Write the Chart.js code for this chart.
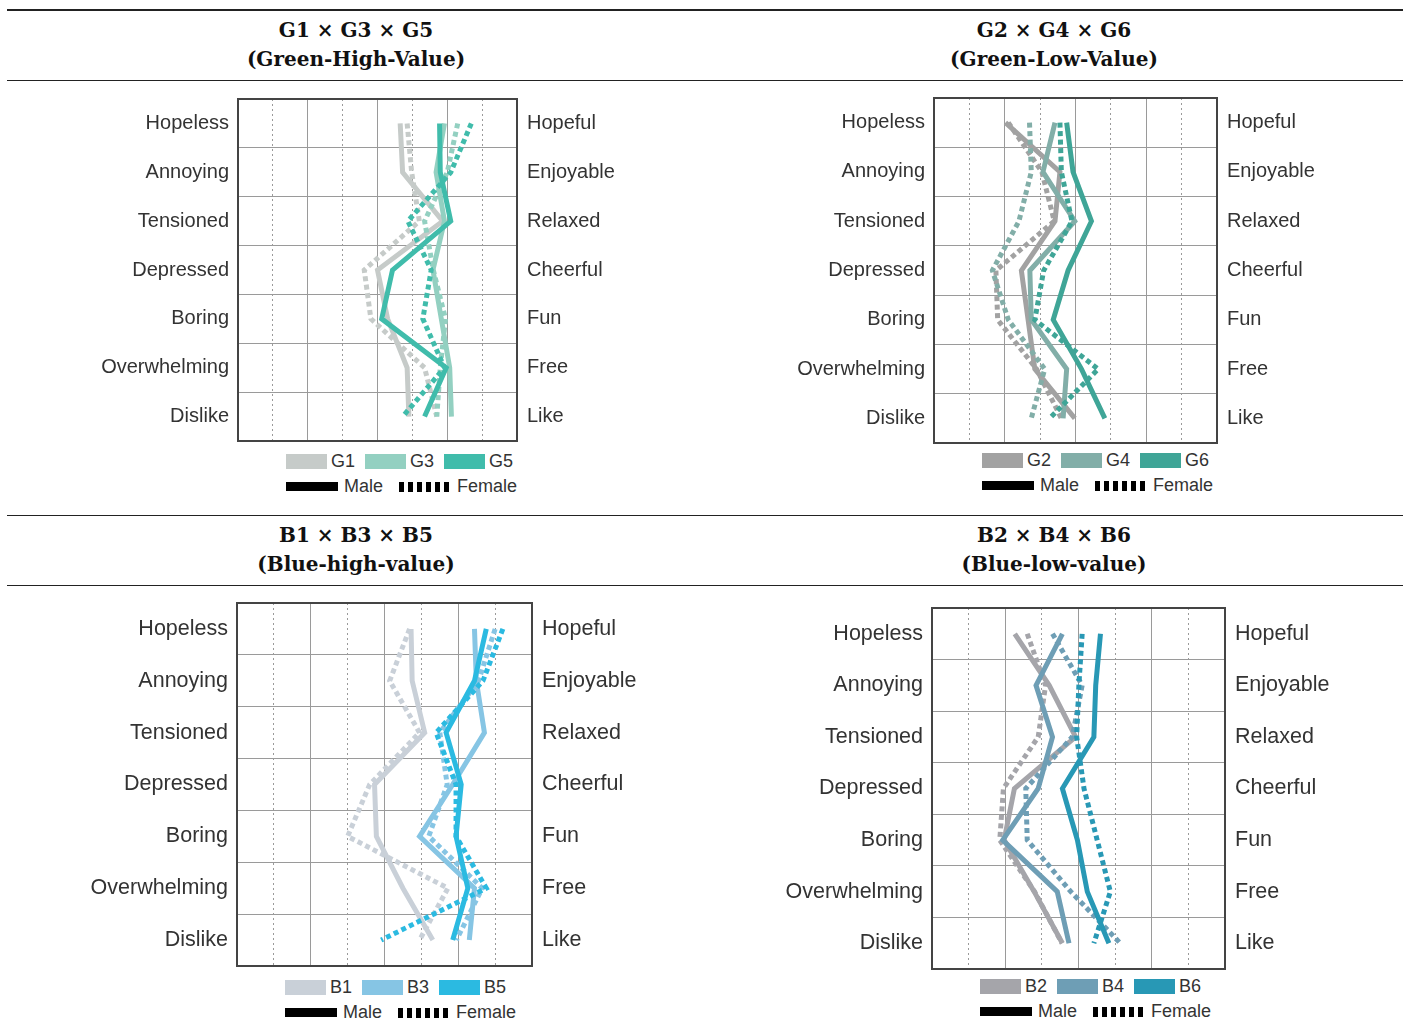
<!DOCTYPE html>
<html>
<head>
<meta charset="utf-8">
<script src="https://cdn.jsdelivr.net/npm/chart.js@4.4.1/dist/chart.umd.min.js"></script>
<style>
  body { margin: 0; width: 1408px; height: 1036px; position: relative; background: #fff; overflow: hidden;
         font-family: "Liberation Sans", Arial, sans-serif; }
  .rule { position: absolute; left: 7px; width: 1396px; height: 1px; background: #222; }
  .head { position: absolute; width: 600px; text-align: center; font-family: "DejaVu Serif", serif;
          font-weight: bold; font-size: 20px; line-height: 29px; color: #111; }
  .panel { position: absolute; }
  .legend { position: absolute; font-size: 18px; color: #333; }
  .row { display: flex; align-items: center; height: 25px; white-space: nowrap; }
  .sw { display: inline-block; width: 41px; height: 15px; margin-right: 4px; }
  .txt { margin-right: 10px; }
  .male { display: inline-block; width: 52px; height: 9px; background: #000; margin-right: 6px; }
  .female { display: inline-block; width: 52px; height: 10px; margin-right: 6px;
            background: repeating-linear-gradient(90deg, #000 0 5px, transparent 5px 9px); }
</style>
</head>
<body>

<div class="rule" style="top:9px;height:2px"></div>
<div class="head" style="left:56px;top:16px">G1 × G3 × G5<br>(Green-High-Value)</div>
<div class="head" style="left:754px;top:16px">G2 × G4 × G6<br>(Green-Low-Value)</div>
<div class="rule" style="top:80px"></div>

<div class="rule" style="top:515px"></div>
<div class="head" style="left:56px;top:521px">B1 × B3 × B5<br>(Blue-high-value)</div>
<div class="head" style="left:754px;top:521px">B2 × B4 × B6<br>(Blue-low-value)</div>
<div class="rule" style="top:585px"></div>

<script>
/* Semantic pairs (left = negative pole, right = positive pole) */
let leftLabels = ['Hopeless', 'Annoying', 'Tensioned', 'Depressed', 'Boring', 'Overwhelming', 'Dislike']
let rightLabels = ['Hopeful', 'Enjoyable', 'Relaxed', 'Cheerful', 'Fun', 'Free', 'Like']

/* Green - high value */
let g1Male   = [4.65, 4.72, 5.87, 4.00, 4.29, 4.85, 4.90]
let g1Female = [4.85, 4.98, 5.20, 3.62, 3.81, 5.35, 5.70]
let g3Male   = [5.92, 5.68, 5.92, 5.59, 5.83, 6.07, 6.12]
let g3Female = [6.30, 6.00, 5.35, 5.60, 5.95, 5.80, 5.70]
let g5Male   = [5.78, 5.80, 6.10, 4.43, 4.12, 5.97, 5.35]
let g5Female = [6.69, 6.10, 4.87, 5.54, 5.30, 5.92, 4.72]

/* Green - low value */
let g2Male   = [2.02, 3.56, 3.42, 2.47, 2.66, 2.85, 3.98]
let g2Female = [2.10, 3.05, 3.40, 1.75, 1.80, 2.90, 3.60]
let g4Male   = [3.42, 3.08, 3.98, 2.71, 2.75, 3.75, 3.65]
let g4Female = [2.70, 2.75, 2.40, 1.65, 2.10, 3.13, 2.75]
let g6Male   = [3.75, 3.93, 4.45, 3.79, 3.37, 4.17, 4.83]
let g6Female = [3.56, 3.60, 3.90, 3.10, 2.85, 4.64, 3.27]

/* Blue - high value */
let b1Male   = [4.72, 4.75, 5.09, 3.73, 3.78, 4.50, 5.31]
let b1Female = [4.68, 4.14, 4.95, 3.60, 3.00, 5.72, 4.95]
let b3Male   = [6.44, 6.49, 6.71, 5.85, 4.95, 6.44, 6.30]
let b3Female = [7.00, 6.55, 5.50, 5.70, 5.20, 6.65, 5.95]
let b5Male   = [6.76, 6.44, 5.67, 6.08, 5.94, 6.26, 5.85]
let b5Female = [7.21, 6.67, 5.40, 5.94, 5.94, 6.76, 3.91]

/* Blue - low value */
let b2Male   = [2.26, 3.20, 3.92, 2.25, 1.97, 2.79, 3.56]
let b2Female = [2.60, 3.10, 2.90, 1.95, 1.85, 2.80, 3.55]
let b4Male   = [3.56, 2.84, 3.29, 2.90, 1.93, 3.42, 3.74]
let b4Female = [3.29, 4.10, 3.83, 2.56, 2.60, 3.79, 5.14]
let b6Male   = [4.60, 4.47, 4.42, 3.56, 3.97, 4.24, 4.83]
let b6Female = [4.10, 4.01, 3.95, 4.15, 4.51, 4.87, 4.42]

// scale runs over 8 cells, odd lines dashed
let scaleMin = 0
let scaleMax = 8

Chart.defaults.font.family = '"Liberation Sans", Arial, sans-serif'

// dark frame round the plot area
let frame = {
    id: 'frame',
    afterDraw(chart) {
        let a = chart.chartArea
        let c = chart.ctx
        c.save()
        c.strokeStyle = '#444'
        c.lineWidth = 2
        c.strokeRect(a.left, a.top, a.right - a.left, a.bottom - a.top)
        c.restore()
    }
}

function makePanel(box, groups, labelSize, legendTop) {
    let sideW = 170
    let pad = 2

    let wrap = document.createElement('div')
    wrap.className = 'panel'
    wrap.style.left = (box.left - sideW) + 'px'
    wrap.style.top = (box.top - pad) + 'px'
    let canvas = document.createElement('canvas')
    canvas.width = box.width + sideW * 2
    canvas.height = box.height + pad * 2
    wrap.appendChild(canvas)
    document.body.appendChild(wrap)

    // one solid (male) and one dashed (female) line per group
    let datasets = []
    groups.slice().reverse().forEach(function (g) {
        datasets.push({ label: g.name + ' Male', data: g.male, borderColor: g.color, borderWidth: 5, pointRadius: 0, tension: 0 })
        datasets.push({ label: g.name + ' Female', data: g.female, borderColor: g.color, borderWidth: 5, borderDash: [5, 3.5], pointRadius: 0, tension: 0 })
    })

    let tickFont = { size: labelSize }

    // fixed side width, and no extra label padding above / below the plot
    let fitSide = s => {
        s.width = sideW
        s.paddingTop = 0
        s.paddingBottom = 0
    }

    new Chart(canvas.getContext('2d'), {
        type: 'line',
        data: { labels: leftLabels, datasets: datasets },
        options: {
            responsive: false,
            animation: false,
            indexAxis: 'y',
            layout: { padding: { top: pad, bottom: pad, left: 0, right: 0 } },
            plugins: { legend: { display: false }, tooltip: { enabled: false } },
            scales: {
                x: {
                    type: 'linear', min: scaleMin, max: scaleMax,
                    ticks: { display: false, stepSize: 1 },
                    grid: { drawTicks: false, color: '#9a9a9a', lineWidth: 1 },
                    border: { display: false, dash: ctx => (ctx.tick && ctx.tick.value % 2) ? [2, 3] : [] },
                    afterFit: s => { s.height = 0 }
                },
                y: {
                    type: 'category', labels: leftLabels, offset: true,
                    grid: { offset: true, drawTicks: false, color: '#9a9a9a' },
                    border: { display: false },
                    ticks: { padding: 9, color: '#333', font: tickFont, autoSkip: false },
                    afterFit: fitSide
                },
                y2: {
                    type: 'category', position: 'right', labels: rightLabels, offset: true,
                    grid: { display: false, drawTicks: false },
                    border: { display: false },
                    ticks: { padding: 10, color: '#333', font: tickFont, autoSkip: false },
                    afterFit: fitSide
                }
            }
        },
        plugins: [frame]
    })

    // legend: colour row, then male / female row
    let legend = document.createElement('div')
    legend.className = 'legend'
    legend.style.left = (box.left + 48) + 'px'
    legend.style.top = legendTop + 'px'
    let html = '<div class="row">'
    groups.forEach(function (g) {
        html += '<span class="sw" style="background:' + g.color + '"></span><span class="txt">' + g.name + '</span>'
    })
    html += '</div><div class="row"><span class="male"></span><span class="txt" style="margin-right:16px">Male</span>'
    html += '<span class="female"></span><span>Female</span></div>'
    legend.innerHTML = html
    document.body.appendChild(legend)
}

makePanel({ left: 238, top: 99, width: 279, height: 342 }, [
    { name: 'G1', color: '#c6cbc9', male: g1Male, female: g1Female },
    { name: 'G3', color: '#93d0c1', male: g3Male, female: g3Female },
    { name: 'G5', color: '#40bcab', male: g5Male, female: g5Female }
], 20, 449)

makePanel({ left: 934, top: 98, width: 283, height: 345 }, [
    { name: 'G2', color: '#a2a2a2', male: g2Male, female: g2Female },
    { name: 'G4', color: '#82aea8', male: g4Male, female: g4Female },
    { name: 'G6', color: '#3fa597', male: g6Male, female: g6Female }
], 20, 448)

makePanel({ left: 237, top: 603, width: 295, height: 363 }, [
    { name: 'B1', color: '#c9d0d8', male: b1Male, female: b1Female },
    { name: 'B3', color: '#86c5e4', male: b3Male, female: b3Female },
    { name: 'B5', color: '#2bbae1', male: b5Male, female: b5Female }
], 21.5, 975)

makePanel({ left: 932, top: 608, width: 293, height: 361 }, [
    { name: 'B2', color: '#a5a5aa', male: b2Male, female: b2Female },
    { name: 'B4', color: '#6e9eb5', male: b4Male, female: b4Female },
    { name: 'B6', color: '#2898b5', male: b6Male, female: b6Female }
], 21.5, 974)
</script>
</body>
</html>
